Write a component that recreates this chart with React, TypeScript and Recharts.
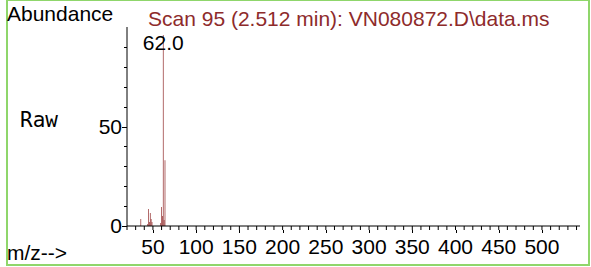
import React from 'react';
import { BarChart, Bar, XAxis, YAxis, LabelList } from 'recharts';

// ---- data ----
const mzValues = [36, 44, 45, 46, 47, 48, 49, 59, 60, 61, 62, 63, 64];
const abundanceValues = [3.5, 1, 8.5, 2, 6.5, 3.5, 2, 1.5, 9.5, 5, 96, 3, 33];
const xMajorLabels = [50, 100, 150, 200, 250, 300, 350, 400, 450, 500];
const yMajorLabels = [0, 50];
const titleText = 'Scan 95 (2.512 min): VN080872.D\\data.ms';
const yTitle = 'Abundance';
const modeText = 'Raw';
const xTitle = 'm/z-->';
const basePeakLabel = '62.0';

const data = mzValues.map((mz, i) => ({ mz, abundance: abundanceValues[i] }));

const xTicks: number[] = [];
for (let v = 20; v <= 540; v += 10) xTicks.push(v);
const yTicks: number[] = [];
for (let v = 0; v <= 90; v += 10) yTicks.push(v);

const FONT = '"Liberation Sans", Arial, sans-serif';
const maxAbundance = Math.max(...abundanceValues);

const crisp = (v: number) => Math.round(v) + 0.5;

// built-in tick line is 4px; majors get 3px extra here. Tick y is axis y + 4.
const XTick = (props: any) => {
  const { x, y, payload } = props;
  const v = payload.value;
  const major = xMajorLabels.includes(v);
  const cx = crisp(x);
  return (
    <g>
      {major && (
        <path d={`M${cx},${Math.round(y)}V${Math.round(y) + 3}`} stroke="#000" strokeWidth={1} fill="none" />
      )}
      {major && (
        <text x={x} y={y + 24} textAnchor="middle" fontSize={21} fontFamily={FONT} fill="#000">
          {v}
        </text>
      )}
    </g>
  );
};

const YTick = (props: any) => {
  const { x, y, payload } = props;
  const v = payload.value;
  const major = yMajorLabels.includes(v);
  const cy = crisp(y);
  return (
    <g>
      <line x1={Math.round(x) - (major ? 5 : 3)} x2={Math.round(x)} y1={cy} y2={cy} stroke="#000" strokeWidth={1} shapeRendering="crispEdges" />
      {major && (
        <text x={x - 5} y={y} dy="0.35em" textAnchor="end" fontSize={21} fontFamily={FONT} fill="#000">
          {v}
        </text>
      )}
    </g>
  );
};

const PeakLabel = (props: any) => {
  const { x, y, width, value } = props;
  if (value !== maxAbundance) return null;
  return (
    <text x={x + width / 2} y={y + 15} textAnchor="middle" fontSize={21} fontFamily={FONT} fill="#000">
      {basePeakLabel}
    </text>
  );
};

export default function App() {
  return (
    <div style={{ position: 'absolute', left: 0, top: 0, width: 591, height: 267, background: '#fff' }}>
      <BarChart
        width={591}
        height={267}
        data={data}
        margin={{ top: 27, right: 11, bottom: 0, left: 0 }}
        barCategoryGap={0}
      >
        <XAxis
          dataKey="mz"
          type="number"
          domain={[20, 544]}
          ticks={xTicks}
          interval={0}
          height={41}
          tickSize={4}
          tickMargin={0}
          tickLine={{ stroke: '#000', strokeWidth: 1 }}
          tick={<XTick />}
          axisLine={{ stroke: '#000', strokeWidth: 1 }}
        />
        <YAxis
          type="number"
          domain={[0, 100]}
          ticks={yTicks}
          interval={0}
          width={127}
          tickSize={0}
          tickMargin={0}
          tickLine={false}
          tick={<YTick />}
          axisLine={{ stroke: '#000', strokeWidth: 1 }}
        />
        <Bar dataKey="abundance" fill="#8B1F1F" fillOpacity={0.85} barSize={2} isAnimationActive={false}>
          <LabelList dataKey="abundance" content={<PeakLabel />} />
        </Bar>
      </BarChart>
      <svg
        width={591}
        height={267}
        style={{ position: 'absolute', left: 0, top: 0, pointerEvents: 'none' }}
      >
        <rect x={7} y={0} width={582} height={265} fill="none" stroke="#8FD66B" strokeWidth={2} />
        <text x={7} y={21} fontSize={21} fontFamily={FONT} fill="#000">{yTitle}</text>
        <text x={148} y={26} fontSize={21} fontFamily={FONT} fill="#8E2B2B">{titleText}</text>
        <text x={20} y={127} fontSize={21} fontFamily='"DejaVu Sans Mono", "Liberation Mono", monospace' fill="#000">{modeText}</text>
        <text x={7} y={260} fontSize={21} fontFamily={FONT} fill="#000">{xTitle}</text>
      </svg>
    </div>
  );
}
